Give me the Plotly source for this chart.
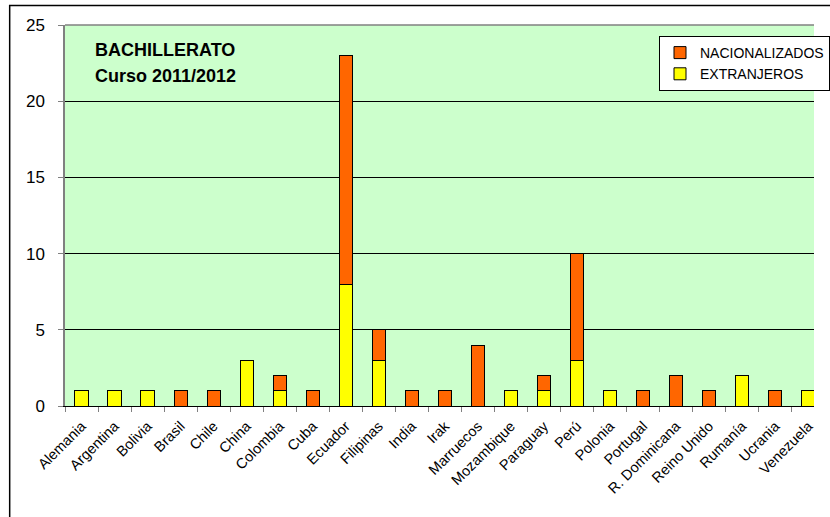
import plotly.graph_objects as go

categories = ["Alemania", "Argentina", "Bolivia", "Brasil", "Chile", "China", "Colombia",
              "Cuba", "Ecuador", "Filipinas", "India", "Irak", "Marruecos", "Mozambique",
              "Paraguay", "Perú", "Polonia", "Portugal", "R. Dominicana", "Reino Unido",
              "Rumanía", "Ucrania", "Venezuela"]
extranjeros = [1, 1, 1, None, None, 3, 1, None, 8, 3, None, None, None, 1,
               1, 3, 1, None, None, None, 2, None, 1]
nacionalizados = [None, None, None, 1, 1, None, 1, 1, 15, 2, 1, 1, 4, None,
                  1, 7, None, 1, 2, 1, None, 1, None]
yticks = [0, 5, 10, 15, 20, 25]

font = "Liberation Sans, Arial, sans-serif"
W, H = 830, 517
L, R, T, B = 65, 0, 25, 111
pw, ph = W - L - R, H - T - B

def px(x):
    return (x - L) / pw

def py(y):
    return (H - B - y) / ph

fig = go.Figure()
fig.add_trace(go.Bar(x=categories, y=extranjeros, name="EXTRANJEROS",
                     marker=dict(color="#FFFF00", line=dict(color="#000000", width=1)),
                     width=0.4))
fig.add_trace(go.Bar(x=categories, y=nacionalizados, name="NACIONALIZADOS",
                     marker=dict(color="#FF6600", line=dict(color="#000000", width=1)),
                     width=0.4))

# outer chart border
fig.add_shape(type="rect", xref="paper", yref="paper",
              x0=px(8.5), x1=px(900), y0=py(600), y1=py(5.5),
              line=dict(color="#000000", width=1.5), fillcolor="rgba(0,0,0,0)", layer="below")
# plot area top border
fig.add_shape(type="line", xref="paper", yref="paper", x0=0, x1=1, y0=1, y1=1,
              line=dict(color="#808080", width=1.5))

fig.add_annotation(text="<b>BACHILLERATO</b>", xref="paper", yref="paper",
                   x=px(94), y=py(50), xanchor="left", yanchor="middle", showarrow=False,
                   font=dict(family=font, size=18, color="#000000"))
fig.add_annotation(text="<b>Curso 2011/2012</b>", xref="paper", yref="paper",
                   x=px(94), y=py(76), xanchor="left", yanchor="middle", showarrow=False,
                   font=dict(family=font, size=18, color="#000000"))

fig.update_layout(
    width=W, height=H,
    margin=dict(l=L, r=R, t=T, b=B, pad=0),
    barmode="stack",
    paper_bgcolor="#FFFFFF",
    plot_bgcolor="#CCFFCC",
    font=dict(family=font, color="#000000"),
    showlegend=True,
    legend=dict(x=px(672), y=py(36), xanchor="left", yanchor="top",
                bgcolor="#FFFFFF", bordercolor="#000000", borderwidth=1,
                font=dict(family=font, size=14), traceorder="reversed",
                itemwidth=30, tracegroupgap=0),
    xaxis=dict(range=[-0.5, 22.5 - 11 / 33.73], tickangle=-45,
               tickfont=dict(family=font, size=14.5), showgrid=False,
               ticks="outside", ticklen=5, tickcolor="#808080", ticklabelstandoff=5,
               tickson="boundaries", showline=True, linecolor="#000000", linewidth=1,
               fixedrange=True),
    yaxis=dict(range=[0, 25], tickvals=yticks, showgrid=True, gridcolor="#000000",
               gridwidth=1, ticks="outside", ticklen=5, tickcolor="#808080",
               tickfont=dict(family=font, size=17), ticklabelstandoff=10,
               showline=True, linecolor="#808080",
               linewidth=1.5, zeroline=False, fixedrange=True),
)

fig.write_html("out.html", config={"displayModeBar": False},
               post_script="document.body.style.margin='0';document.body.style.overflow='hidden';")
